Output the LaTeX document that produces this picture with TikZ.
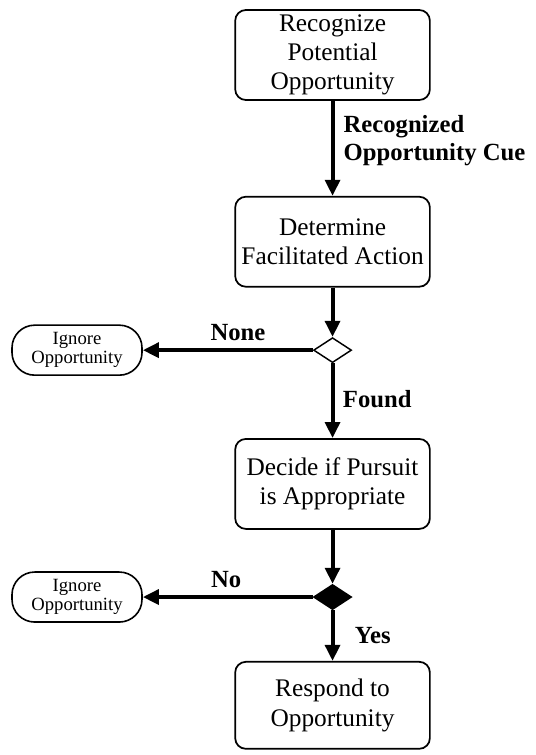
\documentclass[tikz,border=0pt]{standalone}
\usepackage{fontspec}
\setmainfont{Liberation Serif}
\usetikzlibrary{arrows.meta,positioning,shapes.geometric}

\tikzset{
  stepbox/.style={rectangle, rounded corners=8pt, draw, line width=1.3pt, align=center,
                  minimum width=146pt, minimum height=67.5pt, inner sep=3pt,
                  font=\fontsize{19}{22}\selectfont},
  exitbox/.style={rectangle, rounded corners=17pt, draw, line width=1.2pt, align=center,
                  minimum width=97.5pt, minimum height=37.5pt, inner sep=2pt,
                  font=\fontsize{14}{14}\selectfont},
  choice/.style={diamond, draw, line width=1.1pt, minimum width=28.5pt, minimum height=18.75pt,
                 inner sep=0pt, aspect=1.5},
  flow/.style={-{Triangle[length=12pt,width=11pt]}, line width=3pt},
  tag/.style={font=\bfseries\fontsize{18.5}{20.5}\selectfont, align=left}
}

\begin{document}
\begin{tikzpicture}
    \useasboundingbox (0,0) rectangle (401.25pt,-566.25pt);
    \node[stepbox] (spot) at (249.4pt,-41.25pt)
      {Recognize\\ Potential\\ Opportunity};
    \node[stepbox, below=71.25pt of spot] (action)
      {Determine\\ Facilitated Action};
    \node[choice, below=37pt of action] (found) {};
    \node[stepbox, below=56pt of found] (pursue)
      {Decide if Pursuit\\ is Appropriate};
    \node[choice, fill=black, below=40.5pt of pursue] (yes) {};
    \node[stepbox, minimum height=65.25pt, below=38pt of yes] (respond)
      {Respond to\\ Opportunity};
    \node[exitbox, left=127.5pt of found] (ignoreA) {Ignore\\ Opportunity};
    \node[exitbox, left=127.5pt of yes] (ignoreB) {Ignore\\ Opportunity};

    \draw[flow] (spot) -- node[tag, pos=0.42, anchor=west, xshift=3.5pt] {Recognized\\ Opportunity Cue} (action);
    \draw[flow] (action) -- (found);
    \draw[flow] (found) -- node[tag, pos=0.44, above, yshift=2.5pt] {None} (ignoreA);
    \draw[flow] (found) -- node[tag, pos=0.48, anchor=west, xshift=3pt] {Found} (pursue);
    \draw[flow] (pursue) -- (yes);
    \draw[flow] (yes) -- node[tag, pos=0.51, above, yshift=2.5pt] {No} (ignoreB);
    \draw[flow] (yes) -- node[tag, pos=0.49, anchor=west, xshift=12pt] {Yes} (respond);
  \end{tikzpicture}
\end{document}
